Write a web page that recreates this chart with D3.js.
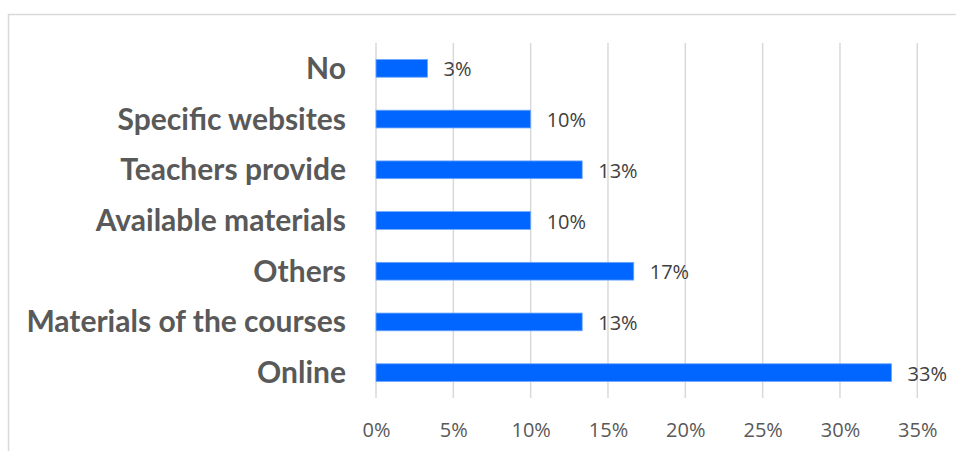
<!DOCTYPE html>
<html>
<head>
<meta charset="utf-8">
<script src="https://cdn.jsdelivr.net/npm/d3@7/dist/d3.min.js"></script>
<style>
  html, body { margin: 0; padding: 0; background: #fff; }
  svg { display: block; }
</style>
</head>
<body>
<svg id="chart" width="956" height="451"></svg>
<script>
// Answers and their share of responses (counts out of 30)
const categories = ["No", "Specific websites", "Teachers provide", "Available materials", "Others", "Materials of the courses", "Online"];
const values = [1 / 30, 3 / 30, 4 / 30, 3 / 30, 5 / 30, 4 / 30, 10 / 30];
const valueLabels = ["3%", "10%", "13%", "10%", "17%", "13%", "33%"];
const tickValues = [0, 0.05, 0.10, 0.15, 0.20, 0.25, 0.30, 0.35];
const tickLabels = ["0%", "5%", "10%", "15%", "20%", "25%", "30%", "35%"];

const svg = d3.select("#chart");
const labelFont = "Lato, sans-serif";
const numberFont = "'Open Sans', sans-serif";

// chart frame
svg.append("path")
  .attr("d", "M8.5,451 V14.5 H956")
  .attr("fill", "none")
  .attr("stroke", "#d9d9d9")
  .attr("stroke-width", 1.5);

const plot = { left: 376, right: 917.3, top: 43, bottom: 398 };

const x = d3.scaleLinear().domain([0, 0.35]).range([plot.left, plot.right]);
const y = d3.scaleBand().domain(categories).range([plot.top, plot.bottom])
  .paddingInner(0.65).paddingOuter(0.325);

// vertical gridlines
svg.append("g")
  .selectAll("line")
  .data(tickValues)
  .join("line")
  .attr("x1", d => x(d)).attr("x2", d => x(d))
  .attr("y1", plot.top).attr("y2", plot.bottom)
  .attr("stroke", "#d9d9d9")
  .attr("stroke-width", 1.5);

// x axis tick labels
const xAxis = d3.axisBottom(x)
  .tickValues(tickValues)
  .tickFormat((d, i) => tickLabels[i])
  .tickSize(0)
  .tickPadding(0);
const gx = svg.append("g")
  .call(xAxis);
gx.select(".domain").remove();
gx.selectAll("text")
  .attr("y", 437)
  .attr("dy", 0)
  .attr("font-family", numberFont)
  .attr("font-size", 20)
  .attr("fill", "#595959");

// category labels
const yAxis = d3.axisLeft(y).tickSize(0).tickPadding(30);
const gy = svg.append("g")
  .attr("transform", `translate(${plot.left},0)`)
  .call(yAxis);
gy.select(".domain").remove();
gy.selectAll("text")
  .attr("dy", "0.35em")
  .attr("font-family", labelFont)
  .attr("font-weight", "bold")
  .attr("font-size", 30)
  .attr("fill", "#595959");

// bars
svg.append("g")
  .selectAll("rect")
  .data(categories)
  .join("rect")
  .attr("x", x(0))
  .attr("y", d => y(d))
  .attr("width", (d, i) => x(values[i]) - x(0))
  .attr("height", y.bandwidth())
  .attr("fill", "#0066ff")
  .attr("stroke", "#6fa8ff")
  .attr("stroke-width", 0.8);

// value labels
svg.append("g")
  .selectAll("text")
  .data(categories)
  .join("text")
  .attr("x", (d, i) => x(values[i]) + 16)
  .attr("y", d => y(d) + y.bandwidth() / 2 + 8)
  .attr("font-family", numberFont)
  .attr("font-size", 20)
  .attr("fill", "#404040")
  .text((d, i) => valueLabels[i]);
</script>
</body>
</html>
